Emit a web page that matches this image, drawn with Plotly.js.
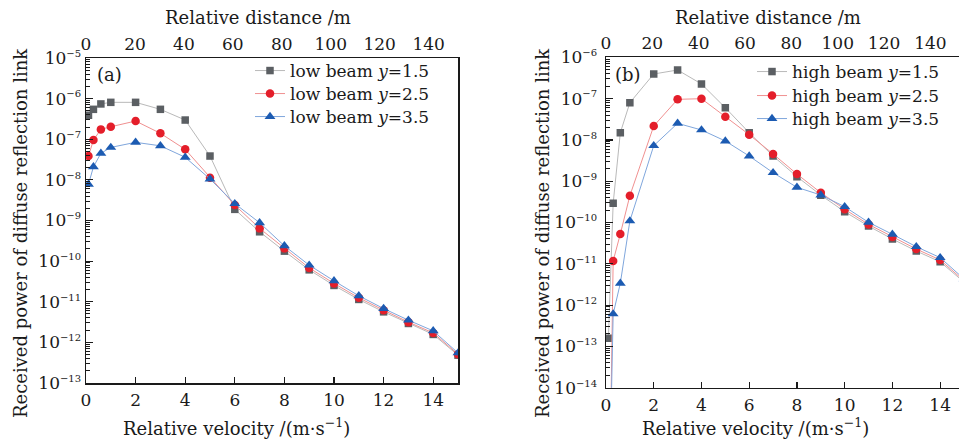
<!DOCTYPE html>
<html><head><meta charset="utf-8">
<script src="https://cdn.plot.ly/plotly-3.0.1.min.js"></script>
<style>html,body{margin:0;padding:0;overflow:hidden;background:#fff}#chart{width:970px;height:441px}</style>
</head><body><div id="chart"></div><script>
// Relative velocity (m/s) sample points
const velocity = [0.1, 0.3, 0.6, 1, 2, 3, 4, 5, 6, 7, 8, 9, 10, 11, 12, 13, 14, 15];

// (a) low beam received power
const lowBeam15 = [3.9e-7, 5.45e-7, 7.4e-7, 8.1e-7, 8.1e-7, 5.45e-7, 2.97e-7, 3.86e-8, 1.88e-9, 5.27e-10, 1.76e-10, 6.1e-11, 2.52e-11, 1.14e-11, 5.64e-12, 2.92e-12, 1.57e-12, 4.84e-13];
const lowBeam25 = [3.86e-8, 9.55e-8, 1.75e-7, 2.03e-7, 2.81e-7, 1.40e-7, 5.64e-8, 1.13e-8, 2.4e-9, 6.4e-10, 2.06e-10, 6.8e-11, 2.83e-11, 1.25e-11, 6.2e-12, 3.15e-12, 1.71e-12, 5.1e-13];
const lowBeam35 = [7.75e-9, 2.1e-8, 4.5e-8, 6.3e-8, 8.4e-8, 6.9e-8, 3.6e-8, 1.05e-8, 2.6e-9, 8.8e-10, 2.38e-10, 7.96e-11, 3.27e-11, 1.4e-11, 6.8e-12, 3.52e-12, 1.92e-12, 5.5e-13];

// (b) high beam received power
const highBeam15 = [1.57e-13, 2.92e-10, 1.49e-8, 7.96e-8, 3.94e-7, 4.93e-7, 2.26e-7, 6.0e-8, 1.49e-8, 4.07e-9, 1.29e-9, 4.6e-10, 1.83e-10, 8.2e-11, 3.98e-11, 2.04e-11, 1.12e-11, 3.6e-12];
const highBeam25 = [3e-19, 1.17e-11, 5.27e-11, 4.46e-10, 2.17e-8, 9.6e-8, 9.95e-8, 3.65e-8, 1.34e-8, 4.56e-9, 1.49e-9, 5.27e-10, 2.09e-10, 9.0e-11, 4.46e-11, 2.28e-11, 1.24e-11, 3.9e-12];
const highBeam35 = [2e-18, 6.1e-13, 3.37e-12, 1.09e-10, 7.24e-9, 2.52e-8, 1.74e-8, 9.4e-9, 4.07e-9, 1.61e-9, 7.1e-10, 4.63e-10, 2.41e-10, 1.01e-10, 5.18e-11, 2.6e-11, 1.41e-11, 4.3e-12];

const lowNames = ['low beam <i>y</i>=1.5', 'low beam <i>y</i>=2.5', 'low beam <i>y</i>=3.5'];
const highNames = ['high beam <i>y</i>=1.5', 'high beam <i>y</i>=2.5', 'high beam <i>y</i>=3.5'];
// Top axis: relative distance (m) tick values
const distanceTicks = [0, 20, 40, 60, 80, 100, 120, 140];
// Y tick label exponents (powers of ten)
const yExponentsA = [-13, -12, -11, -10, -9, -8, -7, -6, -5];
const yExponentsB = [-14, -13, -12, -11, -10, -9, -8, -7, -6];

const W = 970, H = 441;
const px = v => v / W;
const py = v => 1 - v / H;
const FONT = 'DejaVu Serif';
const INK = '#1a1a1a';

const styles = [
  {line: '#b9b9b9', marker: '#5b5f63', symbol: 'square', size: 7.5},
  {line: '#f09090', marker: '#e41e2a', symbol: 'circle', size: 8.5},
  {line: '#7fa6dc', marker: '#1c5bb2', symbol: 'triangle-up', size: 9.5}
];

function mk(y, name, s, xa, ya, lg) {
  return {x: velocity, y: y, name: name, type: 'scatter', mode: 'lines+markers',
    xaxis: xa, yaxis: ya, legend: lg, cliponaxis: true,
    line: {color: s.line, width: 1},
    marker: {color: s.marker, symbol: s.symbol, size: s.size}};
}
// helper traces (no visible marks) so the top distance axes are drawn
function axisHelper(xa, ya) {
  return {x: distanceTicks, y: distanceTicks.map(() => null), xaxis: xa, yaxis: ya,
    type: 'scatter', mode: 'markers', showlegend: false, hoverinfo: 'skip',
    marker: {opacity: 0}};
}

const data = [
  mk(lowBeam15, lowNames[0], styles[0], 'x', 'y', 'legend'),
  mk(lowBeam25, lowNames[1], styles[1], 'x', 'y', 'legend3'),
  mk(lowBeam35, lowNames[2], styles[2], 'x', 'y', 'legend4'),
  mk(highBeam15, highNames[0], styles[0], 'x2', 'y2', 'legend2'),
  mk(highBeam25, highNames[1], styles[1], 'x2', 'y2', 'legend5'),
  mk(highBeam35, highNames[2], styles[2], 'x2', 'y2', 'legend6'),
  axisHelper('x3', 'y'),
  axisHelper('x4', 'y2')
];

const tickFont = {family: FONT, size: 17, color: INK};
function xBottom(dom, anchor) {
  return {domain: dom, anchor: anchor, range: [0, 15], dtick: 2, tick0: 0,
    ticks: 'inside', ticklen: 6, tickwidth: 1.2, tickcolor: INK, ticklabelstandoff: 1,
    showline: true, linecolor: INK, linewidth: 1.5, mirror: false,
    showgrid: false, zeroline: false, tickfont: tickFont};
}
function xTop(over, anchor, rng) {
  return {overlaying: over, anchor: anchor, side: 'top', range: rng,
    tickmode: 'array', tickvals: distanceTicks, ticks: '', showticklabels: true,
    showline: true, linecolor: INK, linewidth: 1.5,
    showgrid: false, zeroline: false, tickfont: tickFont};
}
function yLog(dom, anchor, rng, exps, standoff) {
  return {domain: dom, anchor: anchor, type: 'log', range: rng,
    tickmode: 'array', tickvals: exps.map(e => Math.pow(10, e)),
    ticktext: exps.map(e => '10<sup><span style="font-size:10px">\u2212' + (-e) + '</span></sup>'),
    ticks: 'inside', ticklen: 7, tickwidth: 1.2, tickcolor: INK, ticklabelstandoff: standoff,
    minor: {ticks: 'inside', ticklen: 4, tickwidth: 1, tickcolor: INK, dtick: 'D1', showgrid: false},
    showline: true, linecolor: INK, linewidth: 1.5, mirror: true,
    showgrid: false, zeroline: false, tickfont: tickFont};
}

const titleFont = {family: FONT, size: 18, color: INK};
function ann(text, x, y, angle) {
  return {text: text, x: px(x), y: py(y), xref: 'paper', yref: 'paper',
    xanchor: 'center', yanchor: 'middle', showarrow: false, textangle: angle || 0, font: titleFont};
}
function leg(x, y) {
  return {x: px(x), y: py(y), xanchor: 'left', yanchor: 'middle', bgcolor: 'rgba(0,0,0,0)',
    font: {family: FONT, size: 17, color: INK}, itemwidth: 30};
}

const layout = {
  width: W, height: H,
  margin: {l: 0, r: 0, t: 0, b: 0},
  paper_bgcolor: '#fff', plot_bgcolor: '#fff',
  font: {family: FONT, color: INK},
  showlegend: true,
  xaxis: xBottom([px(86), px(458)], 'y'),
  yaxis: yLog([py(383), py(58)], 'x', [-13, -5], yExponentsA, 0),
  xaxis3: xTop('x', 'y', [0, 152]),
  xaxis2: xBottom([px(606), px(964)], 'y2'),
  yaxis2: yLog([py(387.7), py(57.3)], 'x2', [-14, -6], yExponentsB, 4),
  xaxis4: xTop('x2', 'y2', [0, 154.5]),
  legend: leg(250, 71),
  legend3: leg(250, 94),
  legend4: leg(250, 117),
  legend2: leg(752, 72),
  legend5: leg(752, 96),
  legend6: leg(752, 119),
  annotations: [
    ann('Relative distance /m', 258, 17),
    ann('Relative distance /m', 768, 17),
    ann('Relative velocity /(m·s<sup>−1</sup>)', 236, 427),
    ann('Relative velocity /(m·s<sup>−1</sup>)', 755, 427),
    ann('Received power of diffuse reflection link', 20, 233, -90),
    ann('Received power of diffuse reflection link', 542, 233, -90),
    ann('(a)', 109, 74),
    ann('(b)', 628, 75)
  ]
};

Plotly.newPlot('chart', data, layout, {displayModeBar: false, staticPlot: true});
</script></body></html>
